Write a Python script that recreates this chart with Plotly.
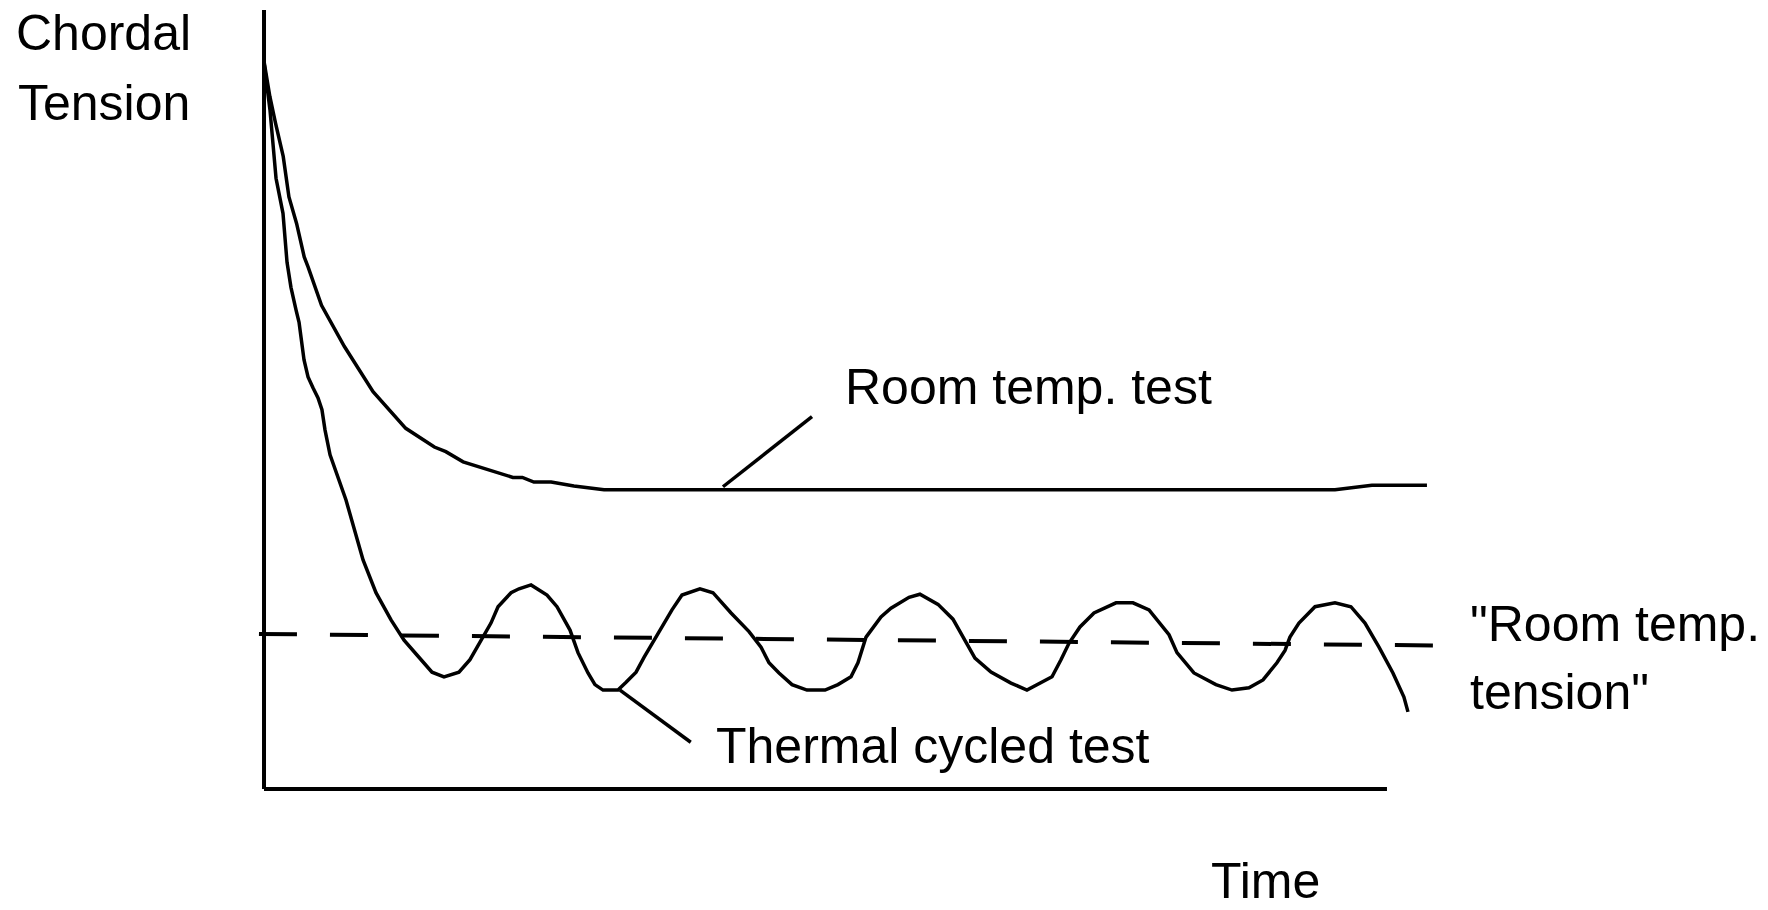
import plotly.graph_objects as go

# ---- data (arbitrary units: time 0..100 along the x-axis, tension 0..100 up the y-axis) ----
room_t = [0.0, 0.52, 1.02, 1.71, 2.22, 2.90, 3.58, 3.93, 5.12, 7.16, 9.71, 12.62, 15.17, 16.19,
          17.73, 20.12, 22.16, 23.01, 24.03, 25.57, 27.60, 30.28, 95.37, 98.66, 103.56]
room_T = [93.4, 88.9, 85.5, 81.2, 76.0, 72.6, 68.3, 67.0, 62.1, 56.8, 51.0, 46.3, 43.9, 43.3,
          42.0, 40.9, 40.0, 40.0, 39.4, 39.4, 38.9, 38.4, 38.4, 39.0, 39.0]

therm_t = [0.0, 0.53, 1.07, 1.69, 2.05, 2.40, 2.85, 3.12, 3.56, 3.92, 4.36, 4.81, 5.16, 5.43, 5.88,
           6.50, 7.30, 8.82, 9.97, 11.31, 12.47, 13.62, 14.96, 16.03, 17.36, 18.34, 19.32, 20.21,
           20.84, 22.0, 22.71, 23.78, 25.2, 26.09, 27.25, 27.96, 28.85, 29.47, 30.19, 31.52, 32.24,
           33.13, 33.84, 34.73, 35.44, 36.33, 37.22, 37.93, 38.82, 39.98, 41.59, 43.19, 44.26,
           44.97, 45.86, 47.02, 48.35, 49.96, 51.11, 52.27, 52.89, 53.61, 54.94, 55.83, 56.99,
           57.44, 58.41, 60.02, 61.35, 62.33, 63.31, 64.74, 66.52, 67.94, 70.17, 70.97, 71.68,
           72.66, 73.91, 75.87, 77.38, 78.81, 79.34, 80.59, 81.30, 82.81, 84.77, 86.20, 87.71,
           88.96, 90.20, 90.92, 91.36, 92.16, 93.59, 95.37, 96.79, 98.04, 99.29, 100.53, 101.51,
           101.87]
therm_T = [93.3, 87.2, 78.4, 73.9, 67.6, 64.4, 61.5, 59.9, 55.1, 52.9, 51.5, 50.2, 48.7, 46.1, 42.9,
           40.3, 37.1, 29.4, 25.2, 21.7, 19.1, 17.2, 15.0, 14.4, 15.0, 16.6, 19.1, 21.3,
           23.4, 25.2, 25.7, 26.2, 24.9, 23.4, 20.4, 17.5, 14.9, 13.4, 12.7, 12.7, 13.7,
           15.0, 16.9, 19.1, 20.8, 23.0, 24.9, 25.3, 25.7, 25.2, 22.6, 20.2, 18.2,
           16.2, 14.9, 13.4, 12.7, 12.7, 13.4, 14.4, 16.2, 19.5, 22.1, 23.2, 24.3,
           24.6, 25.0, 23.7, 21.8, 19.4, 16.8, 15.0, 13.6, 12.7, 14.4, 16.6, 18.7,
           20.8, 22.6, 23.9, 23.9, 23.0, 22.0, 19.8, 17.5, 14.9, 13.4, 12.7, 13.0,
           14.0, 16.2, 17.8, 19.5, 21.3, 23.4, 23.9, 23.4, 21.3, 18.2, 14.9, 11.8,
           9.9]

ref_t = [-0.45, 106.1]          # "Room temp. tension" reference level
ref_T = [19.9, 18.4]

lead_room_t = [40.87, 48.8]
lead_room_T = [38.8, 47.8]
lead_therm_t = [31.7, 38.0]
lead_therm_T = [12.7, 6.0]

axis_x_t = [0, 100]
axis_x_T = [0, 0]
axis_y_t = [0, 0]
axis_y_T = [0, 100]

labels = [
    ("Chordal", -22.3, 97.1),
    ("Tension", -22.1, 88.1),
    ("Room temp. test", 51.6, 51.55),
    ("Thermal cycled test", 40.07, 5.5),
    ("\"Room temp.", 107.2, 21.15),
    ("tension\"", 107.2, 12.45),
    ("Time", 84.13, -11.85),
]

fig = go.Figure()

def line(x, y, width=3.5, dash=None):
    fig.add_trace(go.Scatter(x=x, y=y, mode="lines",
                             line=dict(color="black", width=width, dash=dash),
                             hoverinfo="skip", showlegend=False))

line(axis_y_t, axis_y_T, 4)
line(axis_x_t, axis_x_T, 4)
line(ref_t, ref_T, 4, "38px,33px")
line(room_t, room_T, 3.5)
line(therm_t, therm_T, 3.5)
line(lead_room_t, lead_room_T, 3.5)
line(lead_therm_t, lead_therm_T, 3.5)

for txt, x, y in labels:
    fig.add_annotation(x=x, y=y, text=txt, showarrow=False, xanchor="left", yanchor="middle",
                       font=dict(family="Liberation Sans, Arial, sans-serif", size=50, color="black"))

fig.update_layout(
    width=1768, height=910,
    margin=dict(l=0, r=0, t=0, b=0),
    paper_bgcolor="white", plot_bgcolor="white",
    xaxis=dict(range=[-23.51, 133.93], visible=False, fixedrange=True),
    yaxis=dict(range=[-15.53, 101.28], visible=False, fixedrange=True),
    hovermode=False,
)

fig.write_html("out.html", config={"displayModeBar": False},
               post_script="document.body.style.margin='0';document.body.style.overflow='hidden';")
